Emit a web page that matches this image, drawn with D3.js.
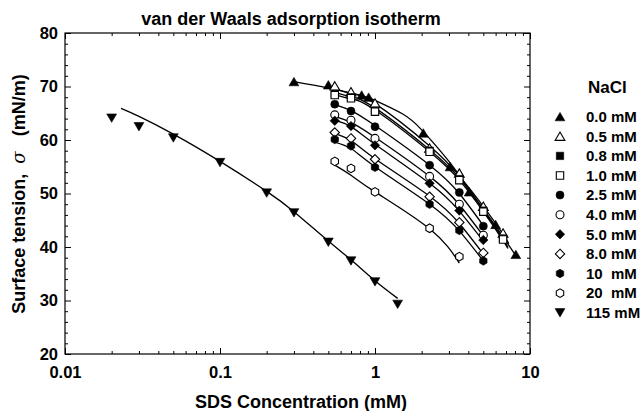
<!DOCTYPE html>
<html><head><meta charset="utf-8">
<script src="https://cdn.jsdelivr.net/npm/d3@7"></script>
<style>
body{margin:0;background:#fff}
svg text{font-family:"Liberation Sans",Arial,Helvetica,sans-serif;font-weight:bold;fill:#000;white-space:pre}
</style>
</head><body>
<svg id="chart" width="643" height="411"></svg>
<script>
// ---------- data (SDS concentration in mM, surface tension in mN/m) ----------
const seriesNames   = ["0.0 mM","0.5 mM","0.8 mM","1.0 mM","2.5 mM","4.0 mM","5.0 mM","8.0 mM","10  mM","20  mM","115 mM"];
const seriesMarkers = ["triUp","triUpOpen","square","squareOpen","circle","circleOpen","diamond","diamondOpen","hex","hexOpen","triDown"];

const colX = [0.55,0.7,1.0,2.25,3.5,5.0];

const conc_0_0  = [0.3,0.5,0.82,0.91,2.05,3.05,4.05,6.0,8.1];
const sigma_0_0 = [70.9,70.3,68.4,68.0,61.3,55.0,50.3,44.2,38.6];
const conc_0_5  = [0.55,0.7,1.0,2.25,3.5,5.0,6.7];
const sigma_0_5 = [70.1,69.0,66.9,58.5,53.8,47.6,42.6];
const conc_0_8  = [0.55,0.7,1.0,2.25,3.5,5.0,6.7];
const sigma_0_8 = [68.6,68.0,65.5,58.0,52.7,46.8,41.6];
const conc_1_0  = [0.55,0.7,1.0,2.25,3.5,5.0,6.7];
const sigma_1_0 = [68.4,67.8,65.3,57.8,52.5,46.6,41.4];
const sigma_2_5 = [66.7,65.4,62.5,55.3,50.2,43.9];
const sigma_4_0 = [64.7,63.7,60.3,53.2,48.0,42.2];
const sigma_5_0 = [63.6,62.6,59.0,51.9,46.8,41.3];
const sigma_8_0 = [61.4,60.3,56.4,49.4,44.6,38.9];
const sigma_10  = [60.1,58.9,54.9,48.0,43.1,37.4];
const conc_20   = [0.55,0.7,1.0,2.25,3.5];
const sigma_20  = [56.0,54.7,50.3,43.5,38.2];
const conc_115  = [0.02,0.03,0.05,0.1,0.2,0.3,0.5,0.7,1.0,1.4];
const sigma_115 = [64.1,62.5,60.4,55.8,50.1,46.4,40.9,37.4,33.5,29.3];

// fitted isotherm curves
const fitX_0_0 = [0.3,0.5,0.8,1.0,1.5,2.0,3.0,4.0,5.0,6.0,7.0,8.0];
const fitY_0_0 = [70.9,69.7,68.4,67.4,64.9,61.9,56.0,51.0,47.1,43.9,41.1,38.6];
const fitX_0_5 = [0.55,0.7,1.0,2.25,3.5,5.0,6.7,7.3];
const fitY_0_5 = [69.6,68.7,66.8,58.9,53.3,47.6,42.4,40.6];
const fitX_0_8 = [0.55,0.7,1.0,2.25,3.5,5.0,6.7,7.2];
const fitY_0_8 = [68.9,68.1,66.0,58.2,52.9,46.9,41.5,39.9];
const fitX_1_0 = [0.55,0.7,1.0,2.25,3.5,5.0,6.7,7.2];
const fitY_1_0 = [68.5,67.7,65.6,57.8,52.5,46.6,41.2,39.7];
const fitY_2_5 = [66.6,65.5,62.7,55.3,50.0,44.0];
const fitY_4_0 = [64.4,63.3,60.5,53.2,47.9,42.1];
const fitY_5_0 = [63.7,62.5,59.2,51.9,46.7,41.1];
const fitY_8_0 = [61.2,59.9,56.5,49.5,44.4,38.7];
const fitY_10  = [59.6,58.4,55.0,48.0,43.0,37.4];
const fitY_20  = [55.3,53.4,50.3,43.4,37.0];
const fitX_115 = [0.023,0.03,0.05,0.1,0.2,0.3,0.5,0.7,1.0,1.4];
const fitY_115 = [65.9,64.4,61.1,56.0,50.4,46.6,41.1,37.6,33.7,30.4];

const xMajor = [0.01,0.1,1,10];
const xMajorLabels = ["0.01","0.1","1","10"];
const yMajor = [20,30,40,50,60,70,80];

// ---------- assemble ----------
const pts = [
  [conc_0_0,sigma_0_0],[conc_0_5,sigma_0_5],[conc_0_8,sigma_0_8],[conc_1_0,sigma_1_0],
  [colX,sigma_2_5],[colX,sigma_4_0],[colX,sigma_5_0],[colX,sigma_8_0],[colX,sigma_10],
  [conc_20,sigma_20],[conc_115,sigma_115]
];
const fits = [
  [fitX_0_0,fitY_0_0],[fitX_0_5,fitY_0_5],[fitX_0_8,fitY_0_8],[fitX_1_0,fitY_1_0],
  [colX,fitY_2_5],[colX,fitY_4_0],[colX,fitY_5_0],[colX,fitY_8_0],[colX,fitY_10],
  [conc_20,fitY_20],[fitX_115,fitY_115]
];
const zip = (a,b)=>a.map((v,i)=>[v,b[i]]);

const svg = d3.select("#chart");
const L=65, R=530, T=33, B=354;
const x = d3.scaleLog().domain([0.01,10]).range([L,R]);
const y = d3.scaleLinear().domain([20,80]).range([B,T]);

const xMinor = [];
[0.01,0.1,1].forEach(d=>{for(let k=2;k<=9;k++) xMinor.push(+(d*k).toPrecision(3));});
const yMinor = d3.range(22,80,2).filter(v=>v%10!==0);

function styleAxis(g){ g.select(".domain").remove(); g.selectAll("line").attr("stroke","#000").attr("stroke-width",1); }

// bottom
svg.append("g").attr("transform",`translate(0,${B})`)
  .call(d3.axisBottom(x).tickValues(xMajor).tickSize(-6).tickPadding(12).tickFormat((d,i)=>xMajorLabels[i]))
  .call(styleAxis).call(g=>g.selectAll("text").attr("font-size",16.5).attr("fill","#000"));
svg.append("g").attr("transform",`translate(0,${B})`)
  .call(d3.axisBottom(x).tickValues(xMinor).tickSize(-3).tickFormat("")).call(styleAxis);
// top
svg.append("g").attr("transform",`translate(0,${T})`)
  .call(d3.axisTop(x).tickValues(xMajor).tickSize(-6).tickFormat("")).call(styleAxis);
svg.append("g").attr("transform",`translate(0,${T})`)
  .call(d3.axisTop(x).tickValues(xMinor).tickSize(-3).tickFormat("")).call(styleAxis);
// left
svg.append("g").attr("transform",`translate(${L},0)`)
  .call(d3.axisLeft(y).tickValues(yMajor).tickSize(-6).tickPadding(7).tickFormat(d3.format("d")))
  .call(styleAxis).call(g=>g.selectAll("text").attr("font-size",16.5).attr("fill","#000"));
svg.append("g").attr("transform",`translate(${L},0)`)
  .call(d3.axisLeft(y).tickValues(yMinor).tickSize(-3).tickFormat("")).call(styleAxis);
// right
svg.append("g").attr("transform",`translate(${R},0)`)
  .call(d3.axisRight(y).tickValues(yMajor).tickSize(-6).tickFormat("")).call(styleAxis);
svg.append("g").attr("transform",`translate(${R},0)`)
  .call(d3.axisRight(y).tickValues(yMinor).tickSize(-3).tickFormat("")).call(styleAxis);

svg.append("rect").attr("x",L).attr("y",T).attr("width",R-L).attr("height",B-T)
  .attr("fill","none").attr("stroke","#000").attr("stroke-width",1.2);

// fitted curves
const line = d3.line().x(d=>x(d[0])).y(d=>y(d[1])).curve(d3.curveNatural);
svg.append("g").selectAll("path").data(fits).join("path")
  .attr("d",f=>line(zip(f[0],f[1])))
  .attr("fill","none").attr("stroke","#000").attr("stroke-width",1.3);

// markers
function markerPath(type){
  const t = type.replace("Open","");
  switch(t){
    case "triUp":   return "M0,-4.3L4.9,4.1L-4.9,4.1Z";
    case "triDown": return "M0,4.3L4.9,-4.1L-4.9,-4.1Z";
    case "square":  return "M-3.7,-3.7H3.7V3.7H-3.7Z";
    case "diamond": return "M0,-4.7L4.7,0L0,4.7L-4.7,0Z";
    case "circle":  return "M4,0A4,4 0 1,1 -4,0A4,4 0 1,1 4,0Z";
    case "hex": {
      const r=4.3, p=d3.range(6).map(i=>{const a=Math.PI/6+i*Math.PI/3;return [r*Math.cos(a),r*Math.sin(a)];});
      return "M"+p.map(q=>q[0].toFixed(2)+","+q[1].toFixed(2)).join("L")+"Z";
    }
  }
}
function drawMarker(g,type,cx,cy){
  const open = type.includes("Open");
  g.append("path").attr("d",markerPath(type)).attr("transform",`translate(${cx},${cy})`)
    .attr("fill",open?"#fff":"#000").attr("stroke","#000").attr("stroke-width",open?1.1:0.6);
}
const mg = svg.append("g");
pts.forEach((s,i)=>{
  zip(s[0],s[1]).forEach(d=>drawMarker(mg,seriesMarkers[i],x(d[0]),y(d[1])));
});

// title & axis labels
svg.append("text").attr("x",291).attr("y",25).attr("text-anchor","middle").attr("font-size",18)
  .text("van der Waals adsorption isotherm");
svg.append("text").attr("x",301).attr("y",408).attr("text-anchor","middle").attr("font-size",18)
  .text("SDS Concentration (mM)");
const yl = svg.append("text").attr("transform","translate(25,194) rotate(-90)")
  .attr("text-anchor","middle").attr("font-size",18);
yl.append("tspan").text("Surface tension,  ");
yl.append("tspan").attr("font-style","italic").attr("font-family","'DejaVu Serif',serif").attr("font-weight","normal").text("σ");
yl.append("tspan").text("   (mN/m)");

// legend
svg.append("text").attr("x",588).attr("y",93).attr("font-size",17).text("NaCl");
const lg = svg.append("g");
seriesNames.forEach((n,i)=>{
  const cy = 116.7 + i*19.6;
  drawMarker(lg,seriesMarkers[i],560,cy);
  lg.append("text").attr("x",586).attr("y",cy+5.3).attr("font-size",15).text(n);
});
</script>
</body></html>
